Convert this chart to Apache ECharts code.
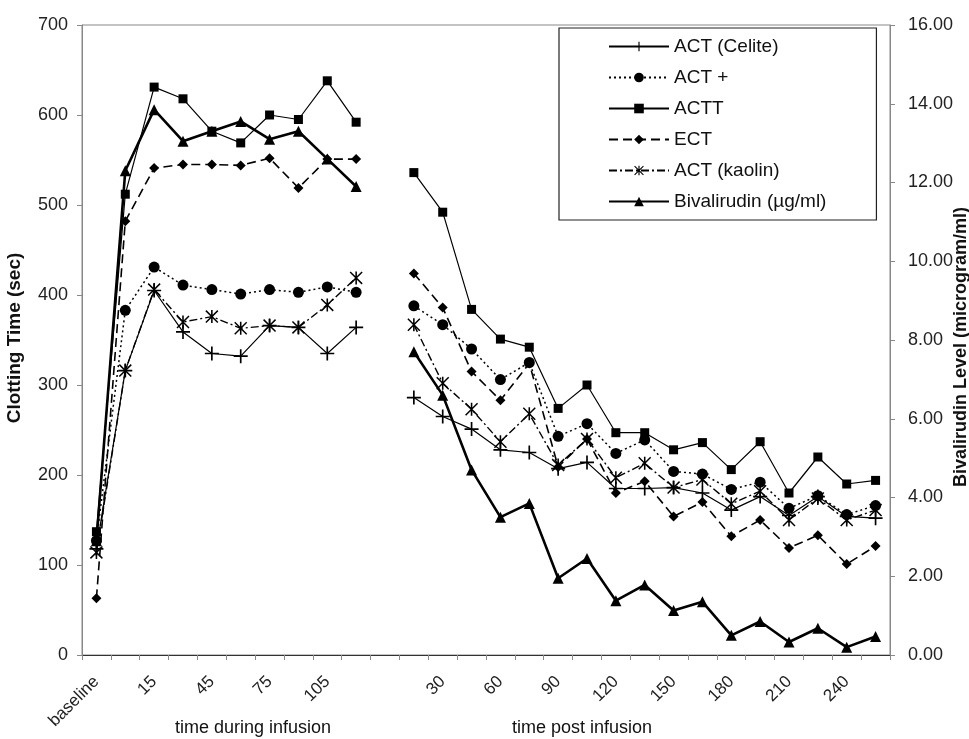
<!DOCTYPE html>
<html>
<head>
<meta charset="utf-8">
<script src="https://cdn.jsdelivr.net/npm/echarts@6/dist/echarts.min.js"></script>
<style>
html,body{margin:0;padding:0;background:#fff;}
#chart{width:969px;height:739px;}
</style>
</head>
<body>
<div id="chart"></div>
<script>
// Category labels
const duringLabels = ['baseline', '5', '15', '30', '45', '60', '75', '90', '105', '120'];
const gapLabels = [''];
const postLabels = ['15', '30', '45', '60', '75', '90', '105', '120', '135', '150', '165', '180', '195', '210', '225', '240', '255'];

// Clotting times (sec)
const celiteDuring = [118, 316, 405, 359, 335, 332, 366, 364, 335, 364];
const celitePost = [286, 265, 251, 228, 225, 207, 214, 185, 185, 186, 180, 161, 176, 155, 176, 154, 152];
const actPlusDuring = [127, 383, 431, 411, 406, 401, 406, 403, 409, 403];
const actPlusPost = [388, 367, 340, 306, 325, 243, 257, 224, 239, 204, 201, 184, 192, 163, 177, 156, 166];
const acttDuring = [137, 512, 631, 618, 582, 569, 600, 595, 638, 592];
const acttPost = [536, 492, 384, 351, 342, 274, 300, 247, 247, 228, 236, 206, 237, 180, 220, 190, 194];
const ectDuring = [63, 482, 541, 545, 545, 544, 552, 519, 551, 551];
const ectPost = [424, 386, 315, 283, 324, 209, 240, 180, 193, 154, 170, 132, 150, 119, 133, 101, 121];
const kaolinDuring = [114, 316, 406, 370, 376, 363, 366, 364, 389, 419];
const kaolinPost = [367, 302, 273, 237, 268, 211, 240, 197, 213, 186, 195, 168, 182, 150, 174, 150, 161];
// Bivalirudin level (microgram/ml)
const bivaDuring = [2.9, 12.3, 13.85, 13.05, 13.3, 13.55, 13.1, 13.3, 12.6, 11.9];
const bivaPost = [7.7, 6.6, 4.7, 3.5, 3.85, 1.95, 2.45, 1.38, 1.78, 1.13, 1.35, 0.5, 0.85, 0.33, 0.68, 0.2, 0.47];

// Axis ticks
const leftTicks = {min: 0, max: 700, interval: 100};
const rightTicks = {min: 0, max: 16, interval: 2};

const categories = duringLabels.concat(gapLabels, postLabels);
const join = (a, b) => a.concat(gapLabels.map(() => null), b);

const FONT = '"Liberation Sans", Arial, sans-serif';
const PLUS = 'path://M0,4.4 L10,4.4 L10,5.6 L0,5.6 Z M4.4,0 L5.6,0 L5.6,10 L4.4,10 Z';
const STAR = 'path://M4.4,0 L5.6,0 L5.6,10 L4.4,10 Z M0.8,0 L10,9.2 L9.2,10 L0,0.8 Z M9.2,0 L10,0.8 L0.8,10 L0,9.2 Z';

function mk(name, data, symbol, size, lineType, width, yIdx) {
  return {
    name: name, type: 'line', data: data, yAxisIndex: yIdx || 0,
    symbol: symbol, symbolSize: size, showSymbol: true, connectNulls: false,
    itemStyle: {color: '#000'},
    lineStyle: {color: '#000', width: width, type: lineType},
    emphasis: {disabled: true}, animation: false, z: yIdx ? 3 : 2
  };
}

const chart = echarts.init(document.getElementById('chart'), null, {renderer: 'canvas'});
chart.setOption({
  backgroundColor: '#fff',
  animation: false,
  textStyle: {fontFamily: FONT},
  grid: {left: 82, right: 79, top: 25, bottom: 84, show: true, borderColor: '#888', borderWidth: 1, backgroundColor: 'transparent'},
  legend: {
    orient: 'vertical', left: 559, top: 28,
    padding: [9, 50, 9, 49],
    itemWidth: 60, itemHeight: 12, itemGap: 12,
    borderColor: '#222', borderWidth: 1.2, backgroundColor: '#fff',
    textStyle: {fontFamily: FONT, fontSize: 19, color: '#111', lineHeight: 19},
    data: ['ACT (Celite)', 'ACT +', 'ACTT', 'ECT', 'ACT (kaolin)', 'Bivalirudin (µg/ml)']
  },
  xAxis: {
    type: 'category', data: categories, boundaryGap: true,
    axisLine: {lineStyle: {color: '#333', width: 1}},
    axisTick: {show: true, interval: 0, length: 5, lineStyle: {color: '#888'}},
    axisLabel: {interval: 1, rotate: 45, margin: 24, fontSize: 17, color: '#222', fontFamily: FONT},
    splitLine: {show: false}
  },
  yAxis: [
    {type: 'value', min: leftTicks.min, max: leftTicks.max, interval: leftTicks.interval, position: 'left',
     axisLine: {show: true, lineStyle: {color: '#888'}},
     axisTick: {show: true, length: 5, lineStyle: {color: '#888'}},
     axisLabel: {fontSize: 18, color: '#222', margin: 14, fontFamily: FONT},
     splitLine: {show: false}},
    {type: 'value', min: rightTicks.min, max: rightTicks.max, interval: rightTicks.interval, position: 'right',
     axisLine: {show: true, lineStyle: {color: '#888'}},
     axisTick: {show: true, length: 5, lineStyle: {color: '#888'}},
     axisLabel: {fontSize: 18, color: '#222', margin: 18, fontFamily: FONT, formatter: v => v.toFixed(2)},
     splitLine: {show: false}}
  ],
  graphic: [
    {type: 'text', x: 15, y: 338, rotation: Math.PI / 2,
     style: {text: 'Clotting Time (sec)', font: 'bold 19px ' + FONT, fill: '#111', align: 'center', verticalAlign: 'middle'}},
    {type: 'text', x: 961, y: 347, rotation: Math.PI / 2,
     style: {text: 'Bivalirudin Level (microgram/ml)', font: 'bold 18px ' + FONT, fill: '#111', align: 'center', verticalAlign: 'middle'}},
    {type: 'text', x: 253, y: 728,
     style: {text: 'time during infusion', font: '18px ' + FONT, fill: '#111', align: 'center', verticalAlign: 'middle'}},
    {type: 'text', x: 582, y: 728,
     style: {text: 'time post infusion', font: '18px ' + FONT, fill: '#111', align: 'center', verticalAlign: 'middle'}}
  ],
  series: [
    mk('ACT (Celite)', join(celiteDuring, celitePost), PLUS, 14, 'solid', 1.2),
    mk('ACT +', join(actPlusDuring, actPlusPost), 'circle', 11, [2, 3], 1.5),
    mk('ACTT', join(acttDuring, acttPost), 'rect', 9, 'solid', 1.2),
    mk('ECT', join(ectDuring, ectPost), 'diamond', 10, [9, 5], 1.6),
    mk('ACT (kaolin)', join(kaolinDuring, kaolinPost), STAR, 13, [8, 3, 2, 3], 1.4),
    mk('Bivalirudin (µg/ml)', join(bivaDuring, bivaPost), 'triangle', 11, 'solid', 2.6, 1)
  ]
});
</script>
</body>
</html>
